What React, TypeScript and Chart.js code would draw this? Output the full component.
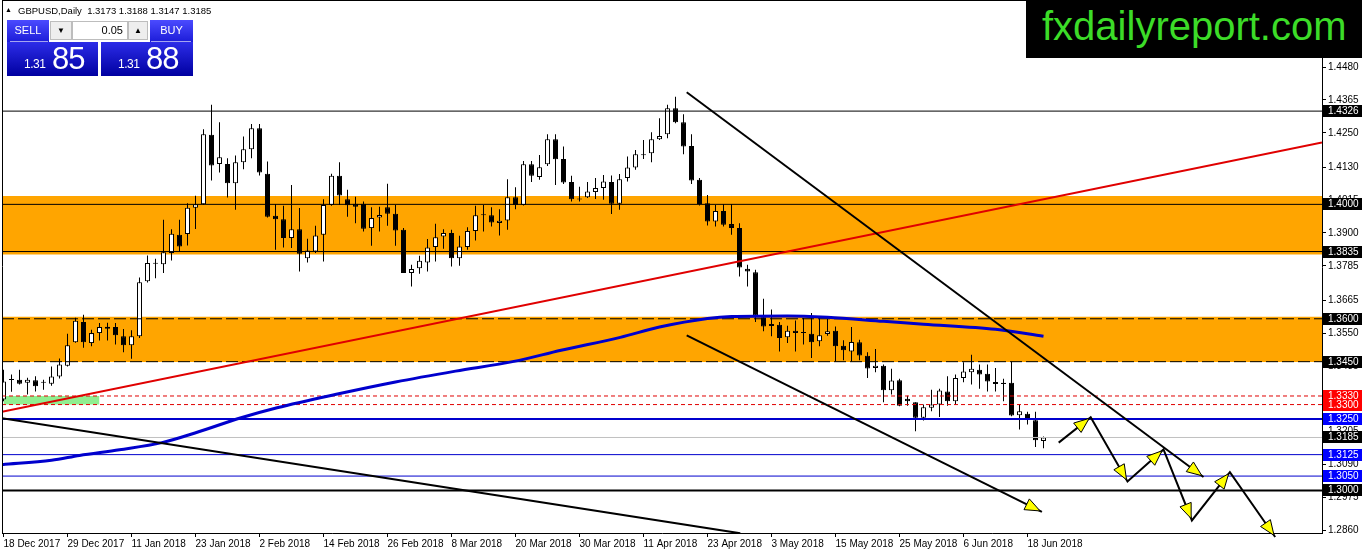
import React, { useEffect, useRef } from "react";
import { Chart, registerables } from "chart.js";

Chart.register(...registerables);

// ---------- DATA ----------
const candleOpen = [
  1.3318, 1.3387, 1.3387, 1.3376, 1.3385, 1.3376, 1.3373, 1.3398, 1.3436, 1.3518,
  1.3589, 1.3515, 1.3550, 1.3565, 1.3571, 1.3539, 1.3507, 1.3539, 1.3731, 1.3792,
  1.3791, 1.3830, 1.3894, 1.3896, 1.3988, 1.4000, 1.4243, 1.4141, 1.4141, 1.4074,
  1.4147, 1.4193, 1.4266, 1.4107, 1.3960, 1.3948, 1.3882, 1.3913, 1.3812, 1.3835,
  1.3894, 1.3998, 1.4100, 1.4018, 1.4002, 1.4002, 1.3917, 1.3954, 1.3990, 1.3967,
  1.3911, 1.3760, 1.3777, 1.3797, 1.3851, 1.3888, 1.3900, 1.3812, 1.3851, 1.3907,
  1.3962, 1.3962, 1.3935, 1.3944, 1.4025, 1.3998, 1.4140, 1.4096, 1.4140, 1.4228,
  1.4159, 1.4078, 1.4018, 1.4025, 1.4043, 1.4057, 1.4078, 1.4002, 1.4092, 1.4129,
  1.4172, 1.4179, 1.4228, 1.4245, 1.4336, 1.4287, 1.4204, 1.4086, 1.4004, 1.3940,
  1.3977, 1.3931, 1.3917, 1.3775, 1.3763, 1.3605, 1.3582, 1.3579, 1.3535, 1.3558,
  1.3550, 1.3548, 1.3521, 1.3547, 1.3558, 1.3506, 1.3486, 1.3518, 1.3471, 1.3428,
  1.3436, 1.3350, 1.3385, 1.3320, 1.3308, 1.3254, 1.3289, 1.3300, 1.3346, 1.3312,
  1.3393, 1.3413, 1.3422, 1.3408, 1.3379, 1.3376, 1.3376, 1.3263, 1.3268, 1.3245,
  1.3173,
];
const candleHigh = [
  1.3422, 1.3405, 1.3422, 1.3394, 1.3399, 1.3387, 1.3433, 1.3461, 1.3548, 1.3604,
  1.3614, 1.3562, 1.3585, 1.3586, 1.3585, 1.3564, 1.3560, 1.3744, 1.3821, 1.3810,
  1.3946, 1.3913, 1.3946, 1.4004, 1.4030, 1.4263, 1.4348, 1.4287, 1.4161, 1.4171,
  1.4237, 1.4281, 1.4281, 1.4150, 1.4001, 1.3995, 1.4068, 1.3987, 1.3880, 1.3925,
  1.4018, 1.4107, 1.4147, 1.4051, 1.4027, 1.4010, 1.3990, 1.3992, 1.4072, 1.3998,
  1.3917, 1.3789, 1.3820, 1.3879, 1.3932, 1.3913, 1.3911, 1.3890, 1.3920, 1.3995,
  1.3998, 1.3990, 1.3983, 1.4088, 1.4060, 1.4152, 1.4152, 1.4173, 1.4245, 1.4245,
  1.4202, 1.4100, 1.4062, 1.4078, 1.4092, 1.4103, 1.4101, 1.4106, 1.4167, 1.4190,
  1.4225, 1.4252, 1.4301, 1.4348, 1.4376, 1.4315, 1.4245, 1.4092, 1.4033, 1.3998,
  1.4001, 1.4001, 1.3934, 1.3789, 1.3771, 1.3670, 1.3632, 1.3589, 1.3576, 1.3594,
  1.3603, 1.3620, 1.3603, 1.3599, 1.3573, 1.3525, 1.3571, 1.3527, 1.3483, 1.3494,
  1.3440, 1.3425, 1.3390, 1.3331, 1.3308, 1.3300, 1.3352, 1.3355, 1.3399, 1.3405,
  1.3448, 1.3474, 1.3440, 1.3440, 1.3428, 1.3390, 1.3451, 1.3300, 1.3275, 1.3275,
  1.3188,
];
const candleLow = [
  1.3312, 1.3345, 1.3370, 1.3335, 1.3346, 1.3352, 1.3366, 1.3391, 1.3433, 1.3516,
  1.3499, 1.3504, 1.3524, 1.3524, 1.3510, 1.3483, 1.3460, 1.3533, 1.3727, 1.3742,
  1.3760, 1.3804, 1.3835, 1.3856, 1.3914, 1.3998, 1.4083, 1.4111, 1.4024, 1.3981,
  1.4123, 1.4161, 1.4101, 1.3954, 1.3841, 1.3849, 1.3847, 1.3765, 1.3797, 1.3830,
  1.3800, 1.3995, 1.3998, 1.3957, 1.3934, 1.3905, 1.3855, 1.3905, 1.3925, 1.3855,
  1.3760, 1.3713, 1.3757, 1.3765, 1.3800, 1.3845, 1.3783, 1.3785, 1.3841, 1.3874,
  1.3905, 1.3923, 1.3891, 1.3911, 1.3983, 1.3996, 1.4078, 1.4086, 1.4134, 1.4068,
  1.4071, 1.4010, 1.4010, 1.4022, 1.4019, 1.4016, 1.3966, 1.3981, 1.4080, 1.4121,
  1.4159, 1.4147, 1.4225, 1.4231, 1.4284, 1.4175, 1.4071, 1.3996, 1.3926, 1.3923,
  1.3923, 1.3894, 1.3748, 1.3713, 1.3589, 1.3556, 1.3539, 1.3486, 1.3515, 1.3486,
  1.3510, 1.3463, 1.3504, 1.3541, 1.3451, 1.3455, 1.3451, 1.3455, 1.3393, 1.3413,
  1.3308, 1.3335, 1.3294, 1.3296, 1.3207, 1.3244, 1.3277, 1.3257, 1.3296, 1.3300,
  1.3378, 1.3370, 1.3355, 1.3346, 1.3346, 1.3312, 1.3259, 1.3213, 1.3230, 1.3152,
  1.3147,
];
const candleClose = [
  1.3381, 1.3386, 1.3373, 1.3387, 1.3364, 1.3377, 1.3398, 1.3440, 1.3507, 1.3593,
  1.3518, 1.3550, 1.3571, 1.3572, 1.3542, 1.3507, 1.3539, 1.3728, 1.3795, 1.3796,
  1.3833, 1.3897, 1.3853, 1.3988, 1.4000, 1.4245, 1.4136, 1.4165, 1.4074, 1.4147,
  1.4193, 1.4266, 1.4111, 1.3957, 1.3948, 1.3882, 1.3913, 1.3827, 1.3839, 1.3891,
  1.3998, 1.4100, 1.4031, 1.3997, 1.3992, 1.3915, 1.3952, 1.3963, 1.3967, 1.3909,
  1.3760, 1.3774, 1.3803, 1.3849, 1.3885, 1.3900, 1.3812, 1.3853, 1.3907, 1.3962,
  1.3963, 1.3937, 1.3943, 1.4025, 1.3998, 1.4140, 1.4100, 1.4130, 1.4228, 1.4158,
  1.4076, 1.4018, 1.4017, 1.4045, 1.4057, 1.4080, 1.4002, 1.4088, 1.4129, 1.4175,
  1.4175, 1.4228, 1.4239, 1.4336, 1.4287, 1.4202, 1.4083, 1.4001, 1.3940, 1.3977,
  1.3929, 1.3917, 1.3779, 1.3765, 1.3612, 1.3573, 1.3575, 1.3533, 1.3558, 1.3550,
  1.3551, 1.3518, 1.3542, 1.3556, 1.3504, 1.3490, 1.3519, 1.3472, 1.3426, 1.3436,
  1.3350, 1.3384, 1.3296, 1.3312, 1.3254, 1.3291, 1.3300, 1.3349, 1.3312, 1.3393,
  1.3416, 1.3425, 1.3405, 1.3381, 1.3372, 1.3372, 1.3262, 1.3277, 1.3247, 1.3175,
  1.3185,
];

const xTickIndex = [0, 8, 16, 24, 32, 40, 48, 56, 64, 72, 80, 88, 96, 104, 112, 120, 128];
const xTickLabels = [
  "18 Dec 2017", "29 Dec 2017", "11 Jan 2018", "23 Jan 2018", "2 Feb 2018", "14 Feb 2018",
  "26 Feb 2018", "8 Mar 2018", "20 Mar 2018", "30 Mar 2018", "11 Apr 2018", "23 Apr 2018",
  "3 May 2018", "15 May 2018", "25 May 2018", "6 Jun 2018", "18 Jun 2018",
];
const yTickValues = [
  1.448, 1.4365, 1.425, 1.413, 1.4015, 1.39, 1.3785, 1.3665, 1.355, 1.3435, 1.332,
  1.3205, 1.309, 1.2975, 1.286,
];

// horizontal levels
const levelValues = [1.4326, 1.4, 1.3835, 1.36, 1.345, 1.333, 1.33, 1.325, 1.3185, 1.3125, 1.305, 1.3];
const levelKinds = ["solid", "solid", "solid", "dash", "dash", "redDot", "redDot", "blueThick", "bid", "blue", "blue", "blackThick"];

// zones
const bandTop = [1.4029, 1.3607];
const bandBottom = [1.3825, 1.3449];
const greenZoneIndex = [0, 12];
const greenZonePrice = [1.333, 1.33];

// moving average
const maIndex = [-0.19, 6, 9.5, 14.5, 19.8, 24.3, 29.7, 34.2, 41.6, 49, 56.5, 63.8, 69.7, 77.1, 82, 88, 91, 98, 103, 110, 115, 124, 130];
const maValues = [
  1.309, 1.3105, 1.3122, 1.3142, 1.3167, 1.3204, 1.3254, 1.3289, 1.3336, 1.3379, 1.3417,
  1.3451, 1.349, 1.3535, 1.3571, 1.3601, 1.3608, 1.361, 1.3605, 1.3591, 1.3581, 1.3563,
  1.3539,
];

// trend lines (bar index, price)
const redLineIndex = [-0.19, 164.81];
const redLinePrice = [1.3275, 1.4216];
const lineAIndex = [-0.19, 92.1];
const lineAPrice = [1.3252, 1.285];
const lineBIndex = [85.4, 150.0];
const lineBPrice = [1.4392, 1.3047];
const lineCIndex = [85.4, 129.8];
const lineCPrice = [1.3542, 1.2925];
const zigzagIndex = [131.9, 135.9, 140.5, 145.0, 148.55, 153.3, 158.96];
const zigzagPrice = [1.3167, 1.3256, 1.3031, 1.3143, 1.2895, 1.3064, 1.2837];

const symbolName = "GBPUSD,Daily";
const bidPrice = 1.3185;
const askPrice = 1.3188;
const lotSize = "0.05";
const brandText = "fxdailyreport.com";

// ---------- STYLE ----------
const X_MIN = -0.1875;
const X_MAX = 164.8125;
const Y_MIN = 1.2851;
const Y_MAX = 1.4711;
const FONT = "'Liberation Sans', Arial, sans-serif";

const levelStyle: Record<string, any> = {
  solid: { color: "#000000", width: 1, dash: [], box: "#000000" },
  dash: { color: "#000000", width: 1, dash: [12, 4], box: "#000000" },
  redDot: { color: "#E00000", width: 1, dash: [4, 3], box: "#FF0000" },
  blueThick: { color: "#0000CD", width: 2, dash: [], box: "#0000FF" },
  bid: { color: "#C0C0C0", width: 1, dash: [], box: "#000000" },
  blue: { color: "#0000CD", width: 1, dash: [], box: "#0000FF" },
  blackThick: { color: "#000000", width: 2, dash: [], box: "#000000" },
};

const pts = (xs: number[], ys: number[]) => xs.map((x, i) => ({ x, y: ys[i] }));

function drawHead(ctx: CanvasRenderingContext2D, x0: number, y0: number, x1: number, y1: number) {
  const dx = x1 - x0;
  const dy = y1 - y0;
  const L = Math.hypot(dx, dy) || 1;
  const ux = dx / L;
  const uy = dy / L;
  const tx = x1 - ux * 2;
  const ty = y1 - uy * 2;
  const bx = tx - ux * 15;
  const by = ty - uy * 15;
  const px = -uy;
  const py = ux;
  ctx.beginPath();
  ctx.moveTo(tx, ty);
  ctx.lineTo(bx + px * 6, by + py * 6);
  ctx.lineTo(bx - px * 6, by - py * 6);
  ctx.closePath();
  ctx.fillStyle = "#FFFF00";
  ctx.fill();
  ctx.lineWidth = 1;
  ctx.strokeStyle = "#000000";
  ctx.setLineDash([]);
  ctx.stroke();
}

const arrowPlugin = {
  id: "arrowHeads",
  afterDatasetsDraw(chart: any) {
    const { ctx, scales } = chart;
    const X = (v: number) => scales.x.getPixelForValue(v);
    const Y = (v: number) => scales.y.getPixelForValue(v);
    ctx.save();
    for (let k = 1; k < zigzagIndex.length; k++) {
      drawHead(ctx, X(zigzagIndex[k - 1]), Y(zigzagPrice[k - 1]), X(zigzagIndex[k]), Y(zigzagPrice[k]));
    }
    drawHead(ctx, X(lineBIndex[0]), Y(lineBPrice[0]), X(lineBIndex[1]), Y(lineBPrice[1]));
    drawHead(ctx, X(lineCIndex[0]), Y(lineCPrice[0]), X(lineCIndex[1]), Y(lineCPrice[1]));
    const a = chart.chartArea;
    ctx.strokeStyle = "#000";
    ctx.lineWidth = 1;
    ctx.beginPath();
    ctx.moveTo(a.left + 0.5, 0);
    ctx.lineTo(a.left + 0.5, a.bottom);
    ctx.moveTo(a.left, 0.5);
    ctx.lineTo(a.right, 0.5);
    ctx.stroke();
    ctx.restore();
  },
};

const boxPlugin = {
  id: "priceBoxes",
  afterDraw(chart: any) {
    const { ctx, scales } = chart;
    const right = chart.chartArea.right;
    ctx.save();
    ctx.font = `10px ${FONT}`;
    ctx.textBaseline = "middle";
    ctx.textAlign = "left";
    levelValues.forEach((v, i) => {
      const st = levelStyle[levelKinds[i]];
      const y = Math.round(scales.y.getPixelForValue(v));
      ctx.fillStyle = st.box;
      ctx.fillRect(right + 1, y - 6, 1362 - right - 1, 12);
      ctx.fillStyle = "#FFFFFF";
      ctx.fillText(v.toFixed(4), right + 6, y + 0.5);
    });
    ctx.restore();
  },
};

function ChartCanvas() {
  const ref = useRef<HTMLCanvasElement | null>(null);
  useEffect(() => {
    if (!ref.current) return;
    const datasets: any[] = [];
    bandTop.forEach((t, i) => {
      datasets.push({
        type: "line",
        data: pts([X_MIN, X_MAX], [t, t]),
        borderColor: "rgba(0,0,0,0)",
        borderWidth: 0,
        pointRadius: 0,
        fill: "+1",
        backgroundColor: "#FFA500",
        order: 100,
      });
      datasets.push({
        type: "line",
        data: pts([X_MIN, X_MAX], [bandBottom[i], bandBottom[i]]),
        borderColor: "rgba(0,0,0,0)",
        borderWidth: 0,
        pointRadius: 0,
        fill: false,
        order: 100,
      });
    });
    datasets.push({
      type: "line",
      data: pts(greenZoneIndex, [greenZonePrice[0], greenZonePrice[0]]),
      borderColor: "rgba(0,0,0,0)",
      borderWidth: 0,
      pointRadius: 0,
      fill: "+1",
      backgroundColor: "#90EE90",
      order: 95,
    });
    datasets.push({
      type: "line",
      data: pts(greenZoneIndex, [greenZonePrice[1], greenZonePrice[1]]),
      borderColor: "rgba(0,0,0,0)",
      borderWidth: 0,
      pointRadius: 0,
      fill: false,
      order: 95,
    });
    datasets.push({
      type: "bar",
      data: candleHigh.map((h, i) => ({ x: i, y: [candleLow[i], h] })),
      backgroundColor: "#000000",
      borderWidth: 0,
      barThickness: 1,
      grouped: false,
      inflateAmount: 0,
      order: 60,
    });
    datasets.push({
      type: "bar",
      data: candleOpen.map((o, i) => ({ x: i, y: [o, candleClose[i]] })),
      backgroundColor: candleOpen.map((o, i) => (candleClose[i] >= o ? "#FFFFFF" : "#000000")),
      borderColor: "#000000",
      borderWidth: 1,
      borderSkipped: false,
      barThickness: 5,
      minBarLength: 1,
      grouped: false,
      inflateAmount: 0,
      order: 55,
    });
    levelValues.forEach((v, i) => {
      const st = levelStyle[levelKinds[i]];
      datasets.push({
        type: "line",
        data: pts([X_MIN, X_MAX], [v, v]),
        borderColor: st.color,
        borderWidth: st.width,
        borderDash: st.dash,
        pointRadius: 0,
        fill: false,
        order: 50,
      });
    });
    datasets.push({
      type: "line",
      data: pts(maIndex, maValues),
      borderColor: "#0000CD",
      borderWidth: 3,
      pointRadius: 0,
      fill: false,
      cubicInterpolationMode: "monotone",
      order: 45,
    });
    datasets.push({
      type: "line",
      data: pts(redLineIndex, redLinePrice),
      borderColor: "#E00000",
      borderWidth: 2,
      pointRadius: 0,
      fill: false,
      order: 40,
    });
    [
      [lineAIndex, lineAPrice],
      [lineBIndex, lineBPrice],
      [lineCIndex, lineCPrice],
    ].forEach(([xs, ys]) => {
      datasets.push({
        type: "line",
        data: pts(xs, ys),
        borderColor: "#000000",
        borderWidth: 2,
        pointRadius: 0,
        fill: false,
        order: 30,
      });
    });
    datasets.push({
      type: "line",
      data: pts(zigzagIndex, zigzagPrice),
      borderColor: "#000000",
      borderWidth: 2,
      pointRadius: 0,
      fill: false,
      clip: false,
      order: 20,
    });

    const chart = new Chart(ref.current, {
      type: "bar",
      data: { datasets },
      plugins: [arrowPlugin, boxPlugin],
      options: {
        responsive: false,
        animation: false,
        devicePixelRatio: 1,
        events: [],
        layout: { padding: { left: 2, top: 1, right: 0, bottom: 0 } },
        plugins: {
          legend: { display: false },
          tooltip: { enabled: false },
        },
        scales: {
          x: {
            type: "linear",
            position: "bottom",
            min: X_MIN,
            max: X_MAX,
            offset: false,
            grid: { display: true, drawOnChartArea: false, drawTicks: true, tickLength: 4, color: "#000", offset: false },
            border: { display: true, color: "#000", width: 1 },
            ticks: {
              autoSkip: false,
              maxRotation: 0,
              minRotation: 0,
              align: "start",
              padding: 1,
              color: "#000",
              font: { family: FONT, size: 10 },
              callback: (v: any) => {
                const k = xTickIndex.indexOf(Number(v));
                return k >= 0 ? xTickLabels[k] : "";
              },
            },
            afterBuildTicks: (s: any) => {
              s.ticks = xTickIndex.map((v) => ({ value: v }));
            },
            afterFit: (s: any) => {
              s.height = 21;
              s.paddingLeft = 0;
              s.paddingRight = 0;
            },
          },
          y: {
            type: "linear",
            position: "right",
            min: Y_MIN,
            max: Y_MAX,
            grid: { display: true, drawOnChartArea: false, drawTicks: true, tickLength: 4, color: "#000" },
            border: { display: true, color: "#000", width: 1 },
            ticks: {
              autoSkip: false,
              padding: 2,
              color: "#000",
              font: { family: FONT, size: 10 },
              callback: (v: any) => Number(v).toFixed(4),
            },
            afterBuildTicks: (s: any) => {
              s.ticks = yTickValues.map((v) => ({ value: v }));
            },
            afterFit: (s: any) => {
              s.width = 40;
              s.paddingTop = 0;
              s.paddingBottom = 0;
            },
          },
        },
      } as any,
    });
    return () => chart.destroy();
  }, []);
  return <canvas ref={ref} width={1362} height={554} style={{ position: "absolute", left: 0, top: 0 }} />;
}

function splitPrice(p: number) {
  const s = p.toFixed(4);
  return { small: s.slice(0, 4), big: s.slice(4) };
}

const abs = (l: number, t: number, w: number, h: number, extra: any = {}) => ({
  position: "absolute" as const,
  left: l,
  top: t,
  width: w,
  height: h,
  boxSizing: "border-box" as const,
  ...extra,
});

function TradePanel() {
  const sell = splitPrice(bidPrice);
  const buy = splitPrice(askPrice);
  const topGrad = "linear-gradient(#4b4bff, #1c1cd8)";
  const bigGrad = "linear-gradient(#2c2ce8, #0000a0)";
  const white = { color: "#fff", fontFamily: FONT };
  const last = candleOpen.length - 1;
  return (
    <>
      <div style={abs(5, 5, 10, 10, { fontSize: 7, lineHeight: "10px", color: "#000", fontFamily: FONT })}>▲</div>
      <div style={abs(18, 4, 260, 13, { fontSize: 9.5, lineHeight: "13px", color: "#000", fontFamily: FONT, whiteSpace: "pre" })}>
        {`${symbolName}  ${candleOpen[last].toFixed(4)} ${candleHigh[last].toFixed(4)} ${candleLow[last].toFixed(4)} ${candleClose[last].toFixed(4)}`}
      </div>
      <div style={abs(7, 20, 42, 22, { background: topGrad, ...white, fontSize: 11, lineHeight: "21px", textAlign: "center" })}>SELL</div>
      <div style={abs(10, 41, 38, 1, { background: "rgba(255,255,255,0.6)" })} />
      <div style={abs(50, 21, 22, 19, { background: "#eeeeee", border: "1px solid #bdbdbd", fontSize: 8, lineHeight: "17px", textAlign: "center", color: "#000", fontFamily: FONT })}>▼</div>
      <div style={abs(72, 21, 56, 19, { background: "#fff", border: "1px solid #bdbdbd", fontSize: 11, lineHeight: "17px", textAlign: "right", paddingRight: 4, color: "#000", fontFamily: FONT })}>{lotSize}</div>
      <div style={abs(128, 21, 20, 19, { background: "#eeeeee", border: "1px solid #bdbdbd", fontSize: 8, lineHeight: "17px", textAlign: "center", color: "#000", fontFamily: FONT })}>▲</div>
      <div style={abs(150, 20, 43, 22, { background: topGrad, ...white, fontSize: 11, lineHeight: "21px", textAlign: "center" })}>BUY</div>
      <div style={abs(151, 41, 40, 1, { background: "rgba(255,255,255,0.6)" })} />
      <div style={abs(7, 42, 91, 34, { background: bigGrad })} />
      <div style={abs(101, 42, 92, 34, { background: bigGrad })} />
      <div style={abs(24, 57, 32, 15, { ...white, fontSize: 12, lineHeight: "15px", letterSpacing: -0.5 })}>{sell.small}</div>
      <div style={abs(52, 43, 40, 32, { ...white, fontSize: 31, lineHeight: "32px", letterSpacing: -1 })}>{sell.big}</div>
      <div style={abs(118, 57, 32, 15, { ...white, fontSize: 12, lineHeight: "15px", letterSpacing: -0.5 })}>{buy.small}</div>
      <div style={abs(146, 43, 40, 32, { ...white, fontSize: 31, lineHeight: "32px", letterSpacing: -1 })}>{buy.big}</div>
    </>
  );
}

export default function App() {
  return (
    <div style={{ position: "fixed", left: 0, top: 0, width: 1362, height: 554, background: "#fff", overflow: "hidden" }}>
      <ChartCanvas />
      <TradePanel />
      <div style={abs(1026, 0, 336, 58, { background: "#000" })}>
        <div style={{ position: "absolute", left: 16, top: 6, fontFamily: FONT, fontSize: 40, lineHeight: "40px", color: "#3CDC28", whiteSpace: "nowrap" }}>
          {brandText}
        </div>
      </div>
    </div>
  );
}
